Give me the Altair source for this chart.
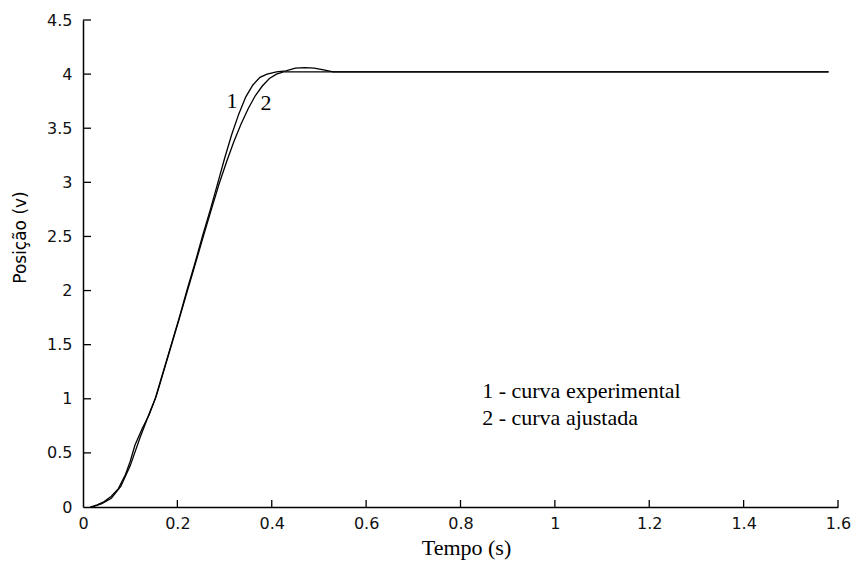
import altair as alt
import pandas as pd

# Step response: measured (curve 1) and fitted model (curve 2)
t_exp = [0.015, 0.03, 0.045, 0.06, 0.075, 0.09, 0.10, 0.11, 0.125, 0.14, 0.153,
         0.17, 0.187, 0.204, 0.22, 0.237, 0.253, 0.27, 0.286, 0.30, 0.315, 0.33,
         0.345, 0.36, 0.375, 0.39, 0.41, 0.43, 0.45, 0.47, 0.49, 0.51, 0.53, 0.60,
         0.80, 1.00, 1.20, 1.40, 1.58]
v_exp = [0.0, 0.02, 0.05, 0.10, 0.17, 0.30, 0.42, 0.57, 0.72, 0.85, 1.00,
         1.25, 1.50, 1.75, 2.00, 2.25, 2.50, 2.75, 3.00, 3.22, 3.44, 3.63,
         3.79, 3.90, 3.97, 4.00, 4.02, 4.03, 4.055, 4.06, 4.055, 4.04, 4.02, 4.02,
         4.02, 4.02, 4.02, 4.02, 4.02]

t_fit = [0.02, 0.04, 0.06, 0.08, 0.10, 0.12, 0.14, 0.155, 0.17, 0.187, 0.204,
         0.22, 0.237, 0.253, 0.27, 0.288, 0.305, 0.32, 0.335, 0.35, 0.365, 0.38,
         0.395, 0.41, 0.425, 0.50, 0.80, 1.00, 1.20, 1.40, 1.58]
v_fit = [0.0, 0.03, 0.08, 0.19, 0.38, 0.63, 0.86, 1.02, 1.24, 1.49, 1.74,
         1.98, 2.23, 2.47, 2.72, 2.98, 3.20, 3.38, 3.54, 3.68, 3.80, 3.89,
         3.96, 4.00, 4.02, 4.02, 4.02, 4.02, 4.02, 4.02, 4.02]

x_ticks = [0, 0.2, 0.4, 0.6, 0.8, 1.0, 1.2, 1.4, 1.6]
y_ticks = [0, 0.5, 1.0, 1.5, 2.0, 2.5, 3.0, 3.5, 4.0, 4.5]

curve_tags = ["1", "2"]
legend_lines = ["1 - curva experimental", "2 - curva ajustada"]

df = pd.concat([
    pd.DataFrame({"t": t_exp, "v": v_exp, "curva": "1"}),
    pd.DataFrame({"t": t_fit, "v": v_fit, "curva": "2"}),
], ignore_index=True)

xs = alt.Scale(domain=[0, 1.6], nice=False, zero=False)
ys = alt.Scale(domain=[0, 4.5], nice=False, zero=False)

SANS = "DejaVu Sans"
SERIF = "Liberation Serif"

x_axis = alt.Axis(values=x_ticks, format="~g", ticks=False, grid=False,
                  domainColor="black", domainWidth=1.5,
                  labelFont=SANS, labelFontSize=16, labelColor="#111",
                  labelPadding=8, labelFlush=False,
                  title="Tempo (s)", titleFont=SERIF, titleFontSize=22,
                  titleFontWeight="normal", titleColor="black",
                  titleX=383, titleY=40, titleBaseline="middle", titleAlign="center")
y_axis = alt.Axis(values=y_ticks, format="~g", ticks=False, grid=False,
                  domainColor="black", domainWidth=1.5,
                  labelFont=SANS, labelFontSize=16, labelColor="#111",
                  labelPadding=11, labelFlush=False,
                  title="Posição (v)", titleFont=SANS, titleFontSize=17,
                  titleFontWeight="normal", titleColor="black",
                  titleX=-63, titleY=217, titleBaseline="middle", titleAlign="center",
                  titleAngle=270)

lines = alt.Chart(df).mark_line(color="black", strokeWidth=1.3).encode(
    x=alt.X("t:Q", scale=xs, axis=x_axis),
    y=alt.Y("v:Q", scale=ys, axis=y_axis),
    detail="curva:N",
    order="t:Q",
)

# inward tick marks
xt = alt.Chart(pd.DataFrame({"t": x_ticks[1:]})).mark_rule(
    color="black", strokeWidth=1.3).encode(
    x=alt.X("t:Q", scale=xs), y=alt.value(487), y2=alt.value(480))
yt = alt.Chart(pd.DataFrame({"v": y_ticks[1:]})).mark_rule(
    color="black", strokeWidth=1.3).encode(
    y=alt.Y("v:Q", scale=ys), x=alt.value(0), x2=alt.value(8))

tags = alt.Chart(pd.DataFrame({"t": [0.316, 0.388], "v": [3.75, 3.73],
                               "s": curve_tags})).mark_text(
    font=SERIF, fontSize=22, color="black", baseline="middle", align="center").encode(
    x=alt.X("t:Q", scale=xs), y=alt.Y("v:Q", scale=ys), text="s:N")

legend = alt.Chart(pd.DataFrame({"t": [0.846, 0.846], "v": [1.007, 0.758],
                                 "s": legend_lines})).mark_text(
    font=SERIF, fontSize=22, color="black", baseline="alphabetic", align="left").encode(
    x=alt.X("t:Q", scale=xs), y=alt.Y("v:Q", scale=ys), text="s:N")

chart = alt.layer(lines, xt, yt, tags, legend).properties(
    width=755, height=487,
    autosize=alt.AutoSizeParams(type="none"),
    padding={"left": 83, "top": 20, "right": 19, "bottom": 56},
    background="white",
).configure_view(stroke=None)

chart.save("out.html", embed_options={"renderer": "svg", "actions": False})
